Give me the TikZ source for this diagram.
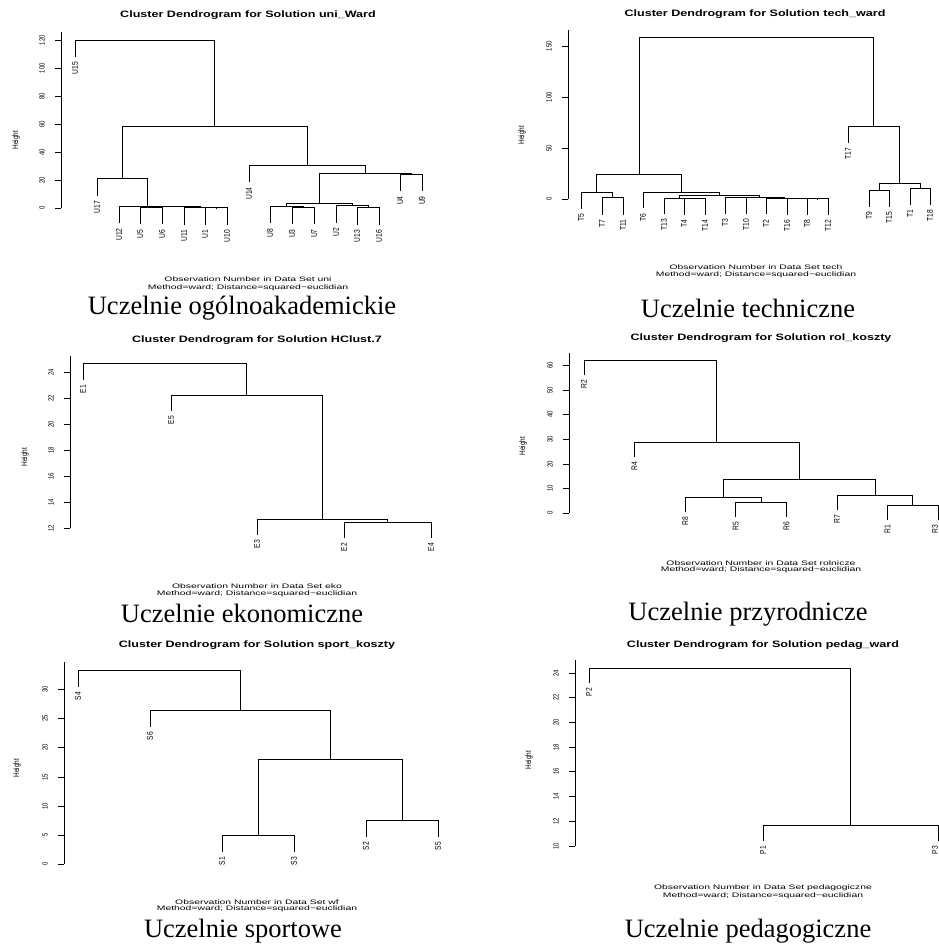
\documentclass[tikz,border=0pt]{standalone}
\usepackage{fontspec}
\usepackage{graphicx}
\setmainfont{Liberation Serif}
\setsansfont{Liberation Sans}
\newcommand\dm[5]{\draw[dl] (#1,#2) |- (#3,#5) -- (#3,#4);}
\newcommand\lf[3]{\node[lfl] at (#1,{#2+5}) {\scalebox{1}[1.25]{#3}};}
\newcommand\tk[3]{\draw[ax] ({#1-6},#2) -- (#1,#2); \node[tkl] at ({#1-19},#2) {\scalebox{1}[1.25]{#3}};}
\newcommand\ttl[3]{\node[ttls] at (#1,#2) {\scalebox{1.35}[1]{#3}};}
\newcommand\sub[4]{\node[subs] at (#1,#2) {\scalebox{1.6}[1]{Observation Number in Data Set #3}};
  \node[subs] at (#1,#4) {\scalebox{1.6}[1]{Method=ward; Distance=squared−euclidian}};}
\begin{document}
\begin{tikzpicture}[x=1pt,y=-1pt,
  dl/.style={line width=0.9pt},
  ax/.style={line width=1pt},
  lfl/.style={rotate=90,anchor=east,inner sep=0pt,font=\sffamily\fontsize{6.7}{7}\selectfont},
  tkl/.style={rotate=90,inner sep=0pt,font=\sffamily\fontsize{6}{7}\selectfont},
  hgt/.style={rotate=90,inner sep=0pt,font=\sffamily\fontsize{6.5}{7}\selectfont},
  ttls/.style={inner sep=0pt,font=\sffamily\bfseries\fontsize{9.3}{10}\selectfont},
  subs/.style={inner sep=0pt,font=\sffamily\fontsize{6.5}{7}\selectfont},
  caps/.style={inner sep=0pt,font=\fontsize{26.5}{28}\selectfont}]
\useasboundingbox[fill=white] (0,0) rectangle (939,946);

% ===== Panel 1 =====
\ttl{248}{15}{Cluster Dendrogram for Solution uni\_Ward}
\draw[ax] (61,32) -- (61,208);
\tk{61}{208}{0}\tk{61}{180}{20}\tk{61}{152}{40}\tk{61}{124}{60}\tk{61}{96}{80}\tk{61}{68}{100}\tk{61}{40}{120}
\node[hgt] at (16,140) {\scalebox{1}[1.25]{Height}};
\dm{140}{224.4}{162}{224.4}{207.4}
\dm{205}{224.9}{227}{224.9}{207.9}
\dm{184}{224.6}{216}{207.9}{207.6}
\dm{151}{207.4}{200}{207.6}{206.9}
\dm{119}{223.3}{175.5}{206.9}{206.3}
\dm{97}{195.6}{147.25}{206.3}{178.6}
\dm{292}{224.2}{314}{224.2}{207.2}
\dm{270}{223.3}{303}{207.2}{206.3}
\dm{357}{224.6}{379}{224.6}{207.6}
\dm{336}{222.5}{368}{207.6}{205.5}
\dm{286.5}{206.3}{352}{205.5}{203.1}
\dm{400}{191.1}{422}{191.1}{174.1}
\dm{319.25}{203.1}{411}{174.1}{173.3}
\dm{249}{182.3}{365}{173.3}{165.3}
\dm{122}{178.6}{307}{165.3}{126.1}
\dm{75}{57}{214.5}{126.1}{40}
\lf{75}{57}{U15}\lf{97}{195.6}{U17}\lf{119}{223.3}{U12}\lf{140}{224.4}{U5}\lf{162}{224.4}{U6}
\lf{184}{224.6}{U11}\lf{205}{224.9}{U1}\lf{227}{224.9}{U10}\lf{249}{182.3}{U14}
\lf{270}{223.3}{U8}\lf{292}{224.2}{U3}\lf{314}{224.2}{U7}\lf{336}{222.5}{U2}
\lf{357}{224.6}{U13}\lf{379}{224.6}{U16}\lf{400}{191.1}{U4}\lf{422}{191.1}{U9}
\sub{248}{279}{uni}{288}
\node[caps] (c1) at (242,308) {Uczelnie ogólnoakademickie};

% ===== Panel 2 =====
\ttl{755}{14}{Cluster Dendrogram for Solution tech\_ward}
\draw[ax] (568,30) -- (568,199);
\tk{568}{199}{0}\tk{568}{148}{50}\tk{568}{97}{100}\tk{568}{46}{150}
\node[hgt] at (522,135) {\scalebox{1}[1.25]{Height}};
\dm{602}{214.5}{623}{214.5}{197.5}
\dm{581}{208.9}{612.5}{197.5}{192.9}
\dm{684}{214.6}{705}{214.6}{198.6}
\dm{664}{214}{694.5}{198.6}{198}
\dm{725}{213.8}{746}{213.8}{197.8}
\dm{807}{214.8}{828}{214.8}{198.8}
\dm{787}{214.5}{817.5}{198.8}{198.5}
\dm{766}{214.1}{802.25}{198.5}{198.1}
\dm{735.5}{197.8}{784.1}{198.1}{197.2}
\dm{679.25}{198}{759.8}{197.2}{195.7}
\dm{643}{208.1}{719.5}{195.7}{192.1}
\dm{596.75}{192.9}{681.25}{192.1}{174.5}
\dm{869}{206.8}{889}{206.8}{190.8}
\dm{910}{204.8}{930}{204.8}{188.8}
\dm{879}{190.8}{920}{188.8}{183.2}
\dm{848}{142.6}{899.5}{183.2}{126.6}
\dm{639}{174.5}{873.75}{126.6}{37.8}
\lf{581}{208.9}{T5}\lf{602}{214.5}{T7}\lf{623}{214.5}{T11}\lf{643}{208.1}{T6}
\lf{664}{214}{T13}\lf{684}{214.6}{T4}\lf{705}{214.6}{T14}\lf{725}{213.8}{T3}
\lf{746}{213.8}{T10}\lf{766}{214.1}{T2}\lf{787}{214.5}{T16}\lf{807}{214.8}{T8}
\lf{828}{214.8}{T12}\lf{848}{142.6}{T17}\lf{869}{206.8}{T9}\lf{889}{206.8}{T15}
\lf{910}{204.8}{T1}\lf{930}{204.8}{T18}
\sub{756}{267}{tech}{275}
\node[caps] (c2) at (748,308) {Uczelnie techniczne};

% ===== Panel 3 =====
\ttl{257}{340}{Cluster Dendrogram for Solution HClust.7}
\draw[ax] (70,356) -- (70,528);
\tk{70}{528}{12}\tk{70}{502}{14}\tk{70}{476}{16}\tk{70}{450}{18}\tk{70}{424}{20}\tk{70}{398}{22}\tk{70}{372}{24}
\node[hgt] at (25,457) {\scalebox{1}[1.25]{Height}};
\dm{344}{538}{431}{538}{522}
\dm{257}{535}{387.5}{522}{519}
\dm{171}{411}{322.25}{519}{395}
\dm{83}{380}{246.6}{395}{363}
\lf{83}{380}{E1}\lf{171}{411}{E5}\lf{257}{535}{E3}\lf{344}{538}{E2}\lf{431}{538}{E4}
\sub{257}{586}{eko}{594}
\node[caps] (c3) at (242,613) {Uczelnie ekonomiczne};

% ===== Panel 4 =====
\ttl{761}{338}{Cluster Dendrogram for Solution rol\_koszty}
\draw[ax] (569,353) -- (569,513);
\tk{569}{513}{0}\tk{569}{488}{10}\tk{569}{464}{20}\tk{569}{439}{30}\tk{569}{414}{40}\tk{569}{390}{50}\tk{569}{365}{60}
\node[hgt] at (523,446) {\scalebox{1}[1.25]{Height}};
\dm{735.8}{517}{786.4}{517}{502}
\dm{685.2}{512}{761.1}{502}{497}
\dm{887.6}{520}{938.2}{520}{505}
\dm{837}{510}{912.9}{505}{495}
\dm{723.15}{497}{874.95}{495}{479}
\dm{634.6}{457}{799.05}{479}{442}
\dm{584}{375}{716.8}{442}{360}
\lf{584}{375}{R2}\lf{634.6}{457}{R4}\lf{685.2}{512}{R8}\lf{735.8}{517}{R5}\lf{786.4}{517}{R6}
\lf{837}{510}{R7}\lf{887.6}{520}{R1}\lf{935}{520}{R3}
\sub{761}{563}{rolnicze}{570}
\node[caps] (c4) at (748,614) {Uczelnie przyrodnicze};

% ===== Panel 5 =====
\ttl{257}{645}{Cluster Dendrogram for Solution sport\_koszty}
\draw[ax] (64,662) -- (64,864);
\tk{64}{864}{0}\tk{64}{835}{5}\tk{64}{806}{10}\tk{64}{777}{15}\tk{64}{747}{20}\tk{64}{718}{25}\tk{64}{689}{30}
\node[hgt] at (17,768) {\scalebox{1}[1.25]{Height}};
\dm{222}{852}{294}{852}{835}
\dm{366}{837}{438}{837}{820}
\dm{258}{835}{402}{820}{759}
\dm{150}{727}{330}{759}{710}
\dm{78}{687}{240}{710}{670}
\lf{78}{687}{S4}\lf{150}{727}{S6}\lf{222}{852}{S1}\lf{294}{852}{S3}\lf{366}{837}{S2}\lf{438}{837}{S5}
\sub{257}{902}{wf}{909}
\node[caps] (c5) at (243,931) {Uczelnie sportowe};

% ===== Panel 6 =====
\ttl{763}{645}{Cluster Dendrogram for Solution pedag\_ward}
\draw[ax] (575,660) -- (575,846);
\tk{575}{846}{10}\tk{575}{821}{12}\tk{575}{796}{14}\tk{575}{771}{16}\tk{575}{747}{18}\tk{575}{722}{20}\tk{575}{697}{22}\tk{575}{673}{24}
\node[hgt] at (529,760) {\scalebox{1}[1.25]{Height}};
\dm{763}{841}{938}{841}{825}
\dm{589}{683}{850.5}{825}{668}
\lf{589}{683}{P2}\lf{763}{841}{P1}\lf{935}{841}{P3}
\sub{763}{888}{pedagogiczne}{896}
\node[caps] (c6) at (748,931) {Uczelnie pedagogiczne};
\end{tikzpicture}
\end{document}
